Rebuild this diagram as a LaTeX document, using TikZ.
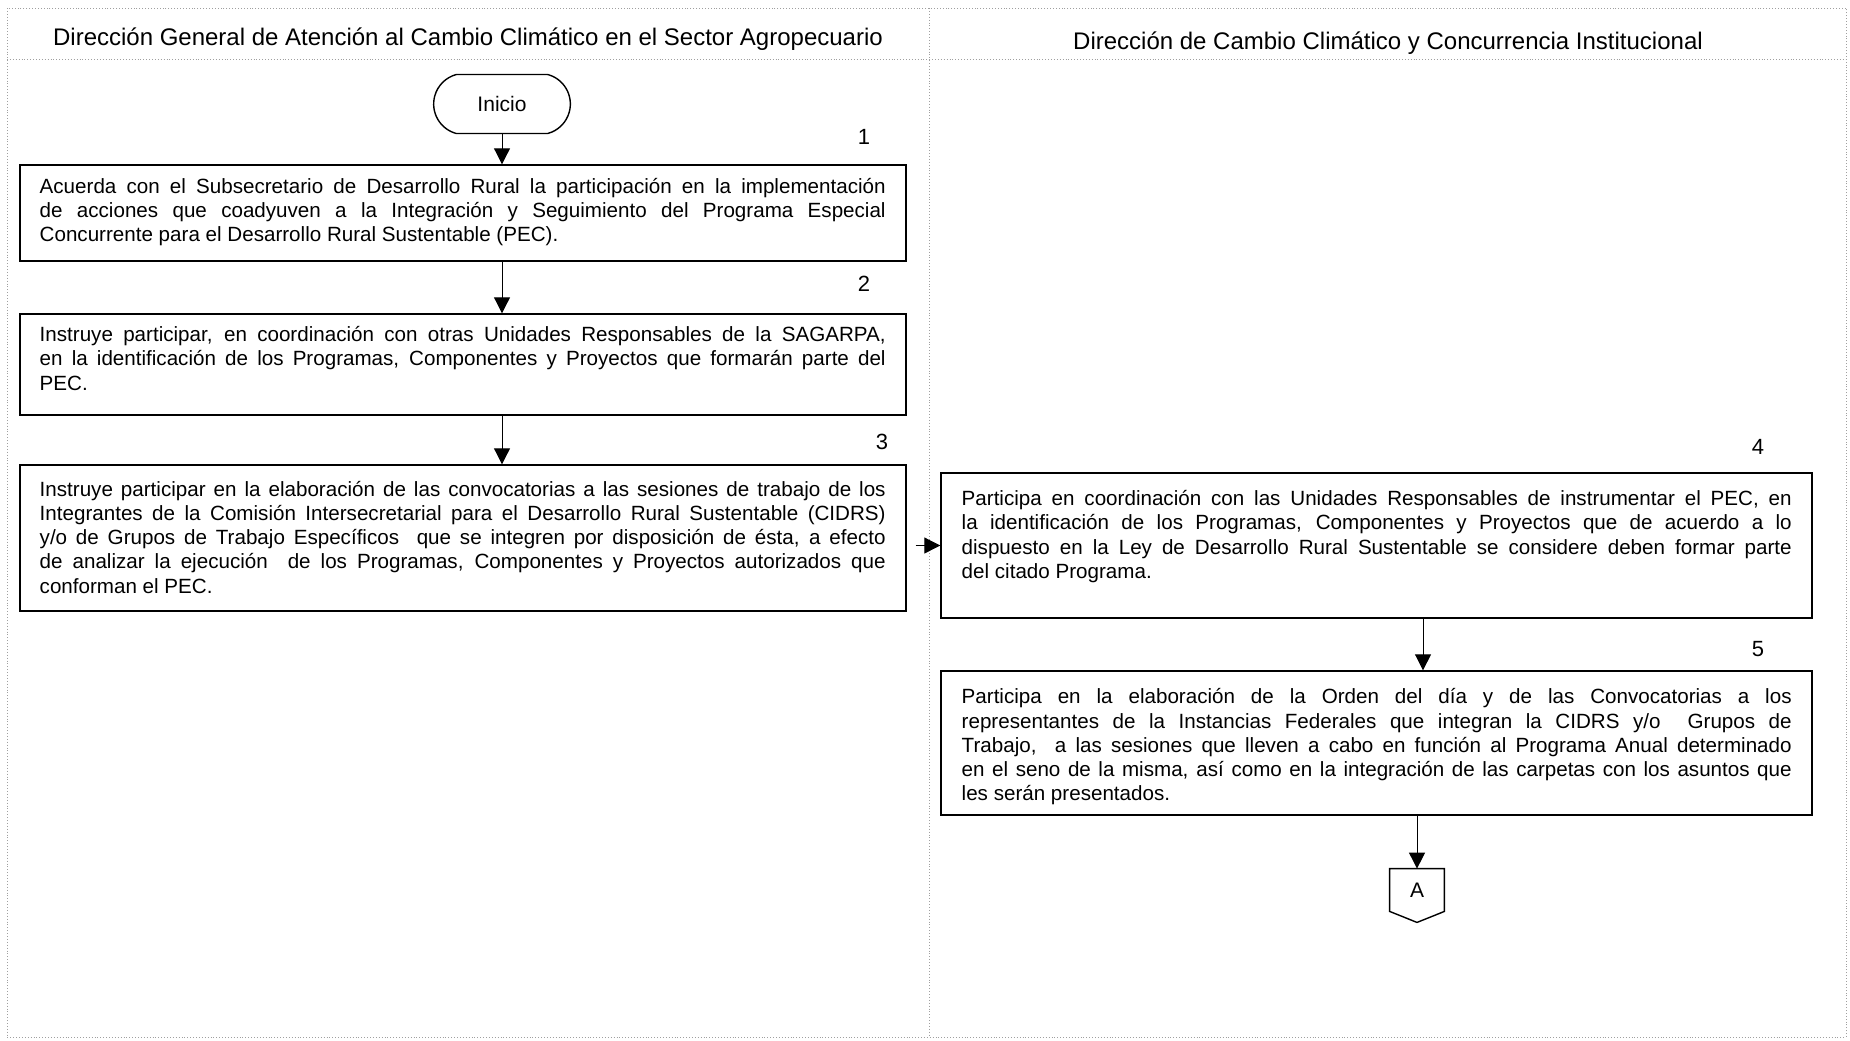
\documentclass[tikz,border=0pt]{standalone}
\usepackage{fontspec}
\setmainfont{Liberation Sans}
\usetikzlibrary{arrows.meta,shapes.misc,calc}
\begin{document}
\begin{tikzpicture}[x=0.5pt,y=-0.5pt,
  frameline/.style={gray!75, line width=0.45pt, densely dotted},
  boxframe/.style={draw, line width=0.7pt, inner sep=0pt},
  boxtext/.style={anchor=north west, inner sep=0pt, text width=#1, align=justify,
    font=\fontsize{10.3}{12.1}\selectfont},
  title/.style={font=\fontsize{12}{14}\selectfont},
  stepnum/.style={font=\fontsize{11}{13}\selectfont},
  flow/.style={line width=0.5pt, -{Triangle[length=8pt,width=8pt]}}]
\useasboundingbox (0,0) rectangle (1850,1040);
% frame
\draw[frameline] (7,8) rectangle (1846,1037);
\draw[frameline] (7,59) -- (1846,59);
\draw[frameline] (929,8) -- (929,1037);
% titles
\node[title] (t1) at (468,39.5) {Dirección General de Atención al Cambio Climático en el Sector Agropecuario};
\node[title] (t2) at (1388,43.5) {Dirección de Cambio Climático y Concurrencia Institucional};
% start
\node[draw, line width=0.7pt, rounded rectangle, rounded rectangle arc length=150,
  minimum width=75pt, minimum height=29.5pt, font=\fontsize{10.5}{12}\selectfont] (ini) at (502,104) {Inicio};
% boxes
\node[boxframe, minimum width=443pt, minimum height=48pt] (b1) at (463,213) {};
\node[boxtext=423pt] (b1t) at ($(b1.north west)+(20,11.4)$)
 {\strut Acuerda con el Subsecretario de Desarrollo Rural la participación en la implementación\linebreak
  de acciones que coadyuven a la Integración y Seguimiento del Programa Especial\linebreak
  Concurrente para el Desarrollo Rural Sustentable (PEC).};
\node[boxframe, minimum width=443pt, minimum height=50.5pt] (b2) at (463,364.5) {};
\node[boxtext=423pt] (b2t) at ($(b2.north west)+(20,11.1)$)
 {\strut Instruye participar, en coordinación con otras Unidades Responsables de la SAGARPA,\linebreak
  en la identificación de los Programas, Componentes y Proyectos que formarán parte del\linebreak
  PEC.};
\node[boxframe, minimum width=443pt, minimum height=73pt] (b3) at (463,538) {};
\node[boxtext=423pt] (b3t) at ($(b3.north west)+(20,14.6)$)
 {\strut Instruye participar en la elaboración de las convocatorias a las sesiones de trabajo de los\linebreak
  Integrantes de la Comisión Intersecretarial para el Desarrollo Rural Sustentable (CIDRS)\linebreak
  y/o de Grupos de Trabajo Específicos\ \ que se integren por disposición de ésta, a efecto\linebreak
  de analizar la ejecución\ \ de los Programas, Componentes y Proyectos autorizados que\linebreak
  conforman el PEC.};
\node[boxframe, minimum width=435.5pt, minimum height=72.5pt] (b4) at (1376.5,545.5) {};
\node[boxtext=415pt] (b4t) at ($(b4.north west)+(21,16.1)$)
 {\strut Participa en coordinación con las Unidades Responsables de instrumentar el PEC, en\linebreak
  la identificación de los Programas, Componentes y Proyectos que de acuerdo a lo\linebreak
  dispuesto en la Ley de Desarrollo Rural Sustentable se considere deben formar parte\linebreak
  del citado Programa.};
\node[boxframe, minimum width=435.5pt, minimum height=72pt] (b5) at (1376.5,743) {};
\node[boxtext=415pt] (b5t) at ($(b5.north west)+(21,16.3)$)
 {\strut Participa en la elaboración de la Orden del día y de las Convocatorias a los\linebreak
  representantes de la Instancias Federales que integran la CIDRS y/o\ \ Grupos de\linebreak
  Trabajo,\ \ a las sesiones que lleven a cabo en función al Programa Anual determinado\linebreak
  en el seno de la misma, así como en la integración de las carpetas con los asuntos que\linebreak
  les serán presentados.};
% off-page connector
\node[minimum width=27pt, minimum height=21pt, inner sep=0pt, font=\fontsize{10.5}{12}\selectfont] (A) at (1417,890) {\raisebox{-1.5pt}{A}};
\draw[line width=0.7pt] (A.north west) -- (A.north east) -- (A.south east) -- ([yshift=-5.5pt]A.south) -- (A.south west) -- cycle;
% step numbers
\node[stepnum] (n1) at (864,137) {1};
\node[stepnum] (n2) at (864,284) {2};
\node[stepnum] (n3) at (882,442) {3};
\node[stepnum] (n4) at (1758,447) {4};
\node[stepnum] (n5) at (1758,649) {5};
% connectors
\draw[flow] (ini.south) -- (ini.south |- b1.north);
\draw[flow] (b1.south -| ini.south) -- (b2.north -| ini.south);
\draw[flow] (b2.south -| ini.south) -- (b3.north -| ini.south);
\draw[flow] ([xshift=4.5pt]b3.east |- b4.west) -- (b4.west);
\draw[flow] (b4.south -| 1423,0) -- (b5.north -| 1423,0);
\draw[flow] (b5.south -| A.north) -- (A.north);
\end{tikzpicture}
\end{document}
